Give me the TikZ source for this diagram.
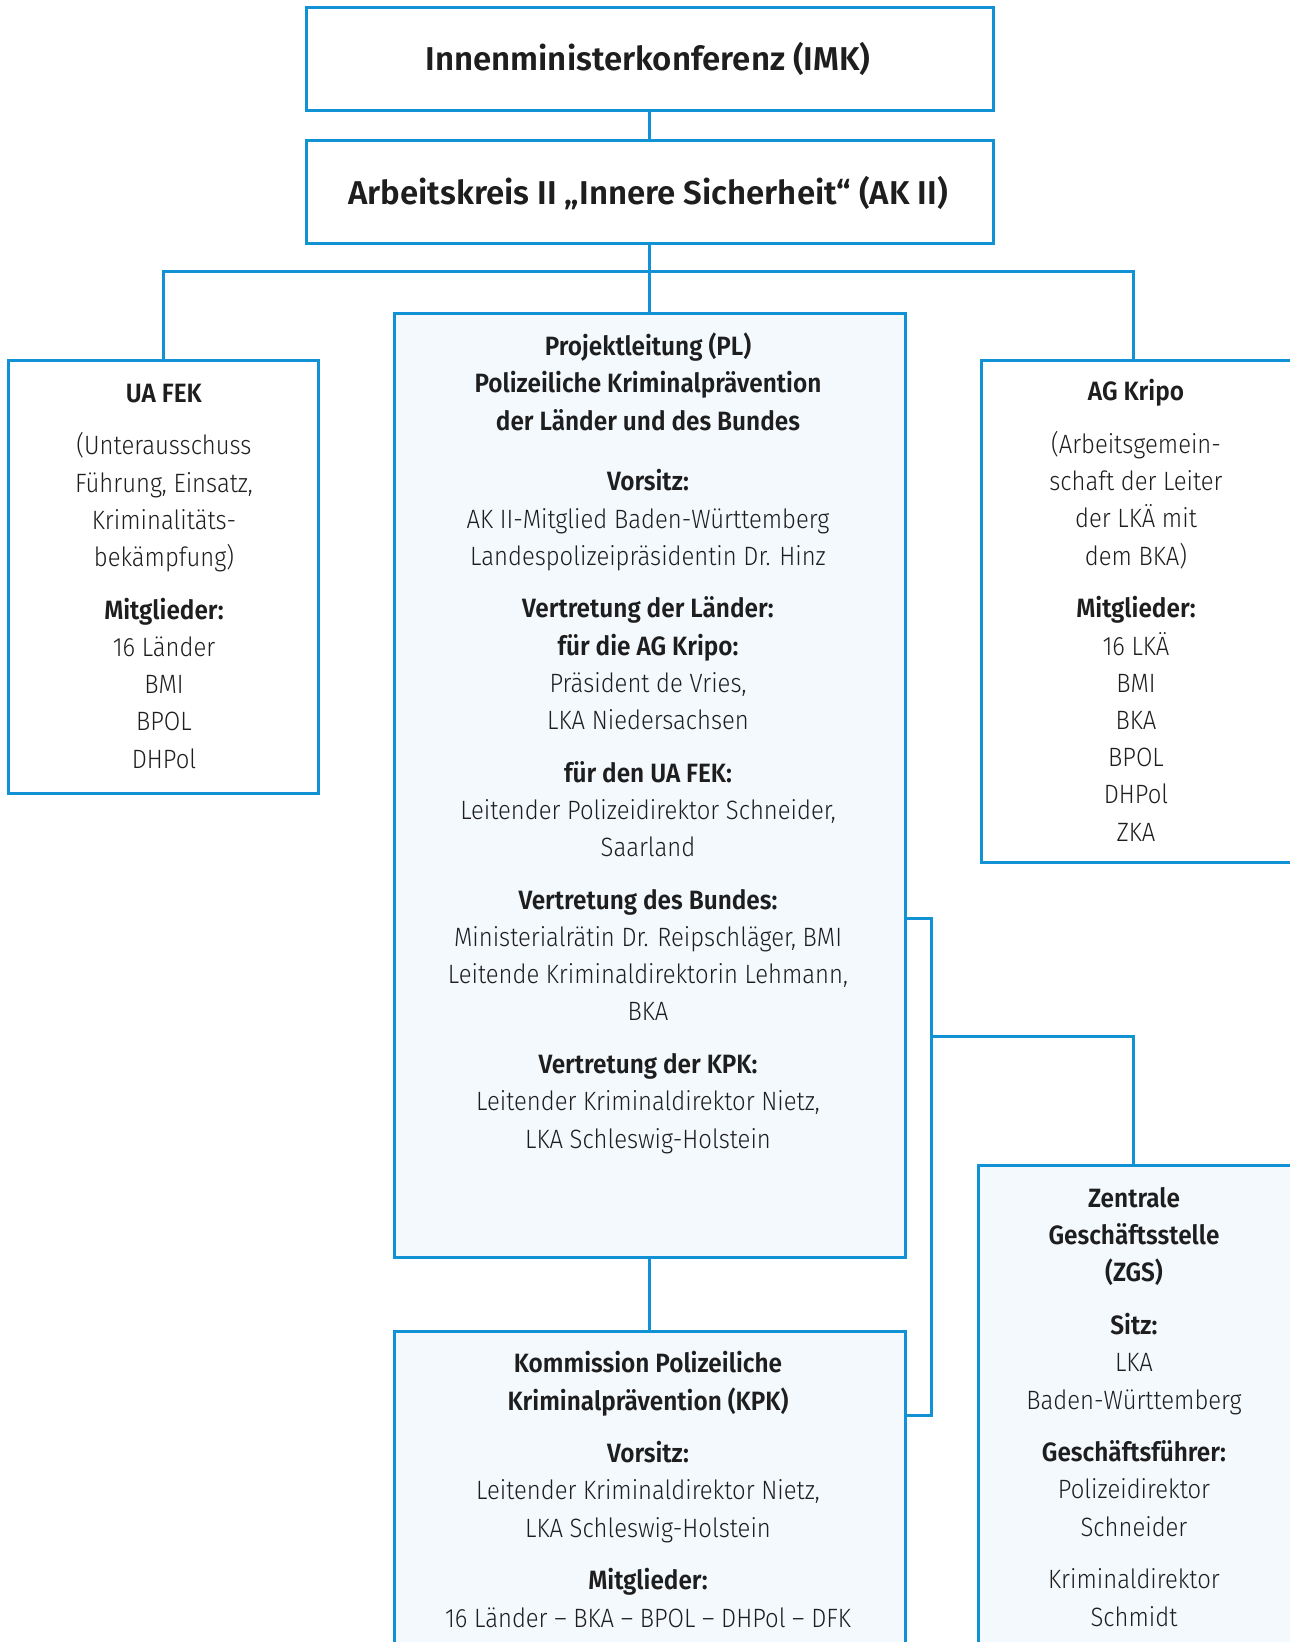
\documentclass[tikz,border=0pt]{standalone}
\usepackage{fontspec}
\setmainfont{Fira Sans Light}[UprightFeatures={FakeStretch=0.90}, BoldFont={Fira Sans SemiBold}, BoldFeatures={FakeStretch=0.92}]
\newfontfamily\headfont{Fira Sans SemiBold}
\definecolor{lineblue}{RGB}{17,146,212}
\definecolor{paleblue}{RGB}{244,249,254}
\definecolor{ink}{RGB}{30,30,30}
\tikzset{
  box/.style={draw=lineblue, line width=3pt, fill=white, inner sep=0pt, rectangle},
  palebox/.style={box, fill=paleblue},
  conn/.style={draw=lineblue, line width=3pt},
  bodytxt/.style={align=center, text=ink, inner sep=0pt, anchor=base,
    font=\fontsize{26.5}{37.2}\selectfont},
  headtxt/.style={text=ink, inner sep=0pt, anchor=base,
    font=\fontsize{33}{38}\headfont}
}
\begin{document}
\begin{tikzpicture}[x=1pt,y=-1pt]
\useasboundingbox[fill=white] (0,0) rectangle (1290,1642);

% boxes
\node[box, minimum width=687pt, minimum height=103pt] (imk) at (649.5,58.5) {};
\node[box, minimum width=687pt, minimum height=103pt] (ak) at (649.5,191.5) {};
\node[box, minimum width=310pt, minimum height=432.5pt] (ua) at (163,576.75) {};
\node[palebox, minimum width=511.5pt, minimum height=944.5pt] (pl) at (649.75,785.25) {};
\node[box, minimum width=329pt, minimum height=501.5pt] (ag) at (1145.5,611.25) {};
\node[palebox, minimum width=331.5pt, minimum height=505pt] (zgs) at (1144.25,1417.5) {};
\node[palebox, minimum width=511.5pt, minimum height=339pt] (kpk) at (649.75,1500.5) {};

% helper coordinates
\coordinate (j) at (648,271);
\coordinate (agtop) at (1133,360.5);
\coordinate (zgstop) at (1133,1165);
\coordinate (bt) at (931,918);
\coordinate (br) at (931,1036);
\coordinate (bb) at (931,1415);

% connectors
\draw[conn] (imk.south) -- (imk.south |- ak.north);
\draw[conn] (ak.south) -- (ak.south |- pl.north);
\draw[conn] (ua.north) |- (j) -| (agtop);
\draw[conn] (pl.south) -- (pl.south |- kpk.north);
\draw[conn] (pl.east |- bt) -- (bt) -- (bb) -- (kpk.east |- bb);
\draw[conn] (br) -| (zgstop);

% texts (anchor base = baseline of the last line)
\node[headtxt] (imkt) at (648,70.7) {Innenministerkonferenz (IMK)};
\node[headtxt] (akt) at (648,204) {Arbeitskreis II „Innere Sicherheit“ (AK II)};

\node[bodytxt] (uat) at (164,768) {\textbf{UA FEK}\\[15.5pt]
(Unterausschuss\\ Führung, Einsatz,\\ Kriminalitäts-\\ bekämpfung)\\[15.5pt]
\textbf{Mitglieder:}\\ 16 Länder\\ BMI\\ BPOL\\ DHPol};

\node[bodytxt] (plt) at (648,1148) {\textbf{Projektleitung (PL)}\\
\textbf{Polizeiliche Kriminalprävention}\\
\textbf{der Länder und des Bundes}\\[23.5pt]
\textbf{Vorsitz:}\\
AK II-Mitglied Baden-Württemberg\\
Landespolizeipräsidentin Dr. Hinz\\[15.5pt]
\textbf{Vertretung der Länder:}\\
\textbf{für die AG Kripo:}\\
Präsident de Vries,\\
LKA Niedersachsen\\[15.5pt]
\textbf{für den UA FEK:}\\
Leitender Polizeidirektor Schneider,\\
Saarland\\[15.5pt]
\textbf{Vertretung des Bundes:}\\
Ministerialrätin Dr. Reipschläger, BMI\\
Leitende Kriminaldirektorin Lehmann,\\
BKA\\[15.5pt]
\textbf{Vertretung der KPK:}\\
Leitender Kriminaldirektor Nietz,\\
LKA Schleswig-Holstein};

\node[bodytxt] (agt) at (1136,841) {\textbf{AG Kripo}\\[15.5pt]
(Arbeitsgemein-\\ schaft der Leiter\\ der LKÄ mit\\ dem BKA)\\[15.5pt]
\textbf{Mitglieder:}\\ 16 LKÄ\\ BMI\\ BKA\\ BPOL\\ DHPol\\ ZKA};

\node[bodytxt] (zgst) at (1134,1626) {\textbf{Zentrale}\\
\textbf{Geschäftsstelle}\\ \textbf{(ZGS)}\\[15.5pt]
\textbf{Sitz:}\\ LKA\\ Baden-Württemberg\\[15.5pt]
\textbf{Geschäftsführer:}\\ Polizeidirektor\\ Schneider\\[15.5pt]
Kriminaldirektor\\ Schmidt};

\node[bodytxt] (kpkt) at (648,1627) {\textbf{Kommission Polizeiliche}\\
\textbf{Kriminalprävention (KPK)}\\[15.5pt]
\textbf{Vorsitz:}\\
Leitender Kriminaldirektor Nietz,\\
LKA Schleswig-Holstein\\[15.5pt]
\textbf{Mitglieder:}\\
16 Länder – BKA – BPOL – DHPol – DFK};
\end{tikzpicture}
\end{document}
